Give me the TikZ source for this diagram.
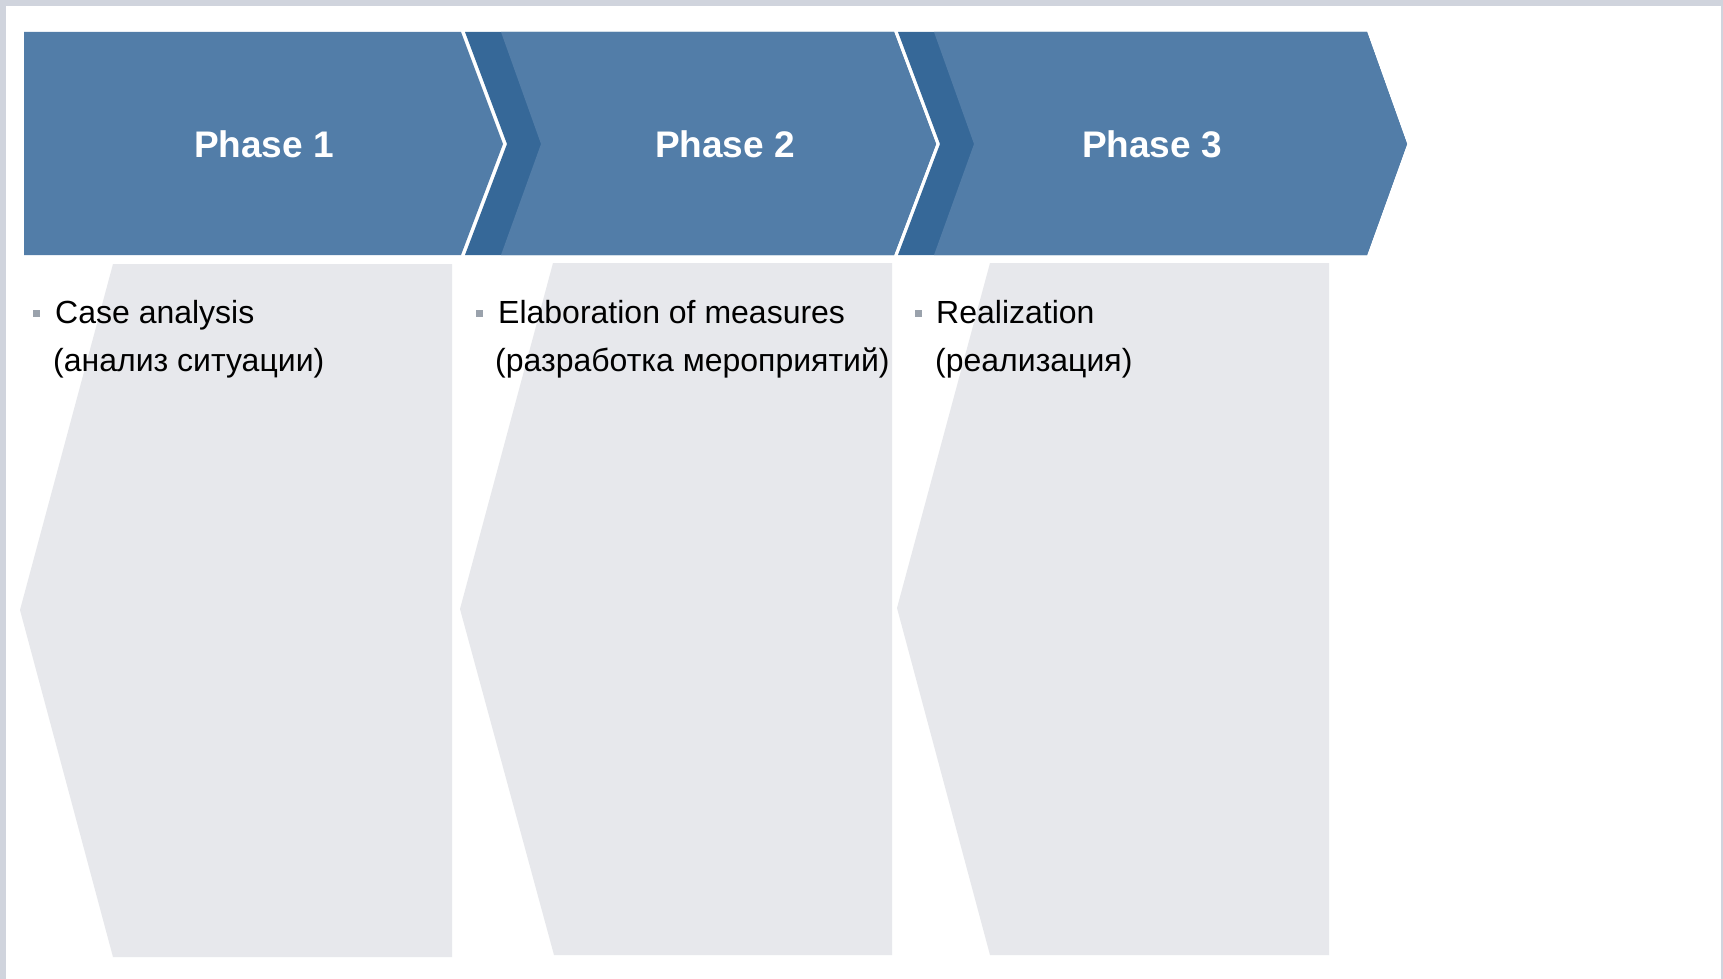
\documentclass[tikz,border=0pt]{standalone}
\usepackage{fontspec}
\setmainfont{Liberation Sans}
\definecolor{phaseblue}{HTML}{527DA8}
\definecolor{phasedark}{HTML}{366898}
\definecolor{panelgray}{HTML}{E7E8EC}
\definecolor{framegray}{HTML}{D0D4DD}
\definecolor{bulletgray}{HTML}{9AA2AC}

\begin{document}
\begin{tikzpicture}[x=1pt,y=-1pt]
  \tikzstyle{every node}+=[inner sep=0pt]
  \tikzstyle{phase}=[text=white,font=\fontsize{37}{44}\selectfont\bfseries]
  \tikzstyle{item}=[anchor=base west,font=\fontsize{32}{44}\selectfont]
  \tikzstyle{bullet}=[fill=bulletgray,minimum size=7pt]
  \useasboundingbox (0,0) rectangle (1723,979);
  \fill [white] (0,0) rectangle (1723,979);
  \fill [framegray] (0,0) rectangle (1723,6);
  \fill [framegray] (0,0) rectangle (6,979);
  \fill [framegray] (1721,0) rectangle (1723,979);
  % panels
  \fill [panelgray] (113,264) -- (452,264) -- (452,957) -- (113,957) -- (20,610) -- cycle;
  \fill [panelgray] (553,263) -- (892,263) -- (892,955) -- (554,955) -- (460,609) -- cycle;
  \fill [panelgray] (990,263) -- (1329,263) -- (1329,955) -- (990,955) -- (897,608) -- cycle;
  % phase band
  \fill [phaseblue] (24,32) -- (461,32) -- (503,144) -- (461,255) -- (24,255) -- cycle;
  \fill [phasedark] (465,32) -- (894,32) -- (936,144) -- (894,255) -- (465,255) -- (507,144) -- cycle;
  \fill [phaseblue] (501,32) -- (894,32) -- (936,144) -- (894,255) -- (501,255) -- (541,144) -- cycle;
  \fill [phasedark] (898,32) -- (1367,32) -- (1407,144) -- (1367,255) -- (898,255) -- (940,144) -- cycle;
  \fill [phaseblue] (934,32) -- (1367,32) -- (1407,144) -- (1367,255) -- (934,255) -- (974,144) -- cycle;
  \node (phase1) [phase] at (264,144) {Phase 1};
  \node (phase2) [phase] at (725,144) {Phase 2};
  \node (phase3) [phase] at (1152,144) {Phase 3};
  % items
  \node (bullet1) [bullet] at (36,313.5) {};
  \node (case) [item] at (55,323) {Case analysis};
  \node (caseru) [item] at (53,371) {(анализ ситуации)};
  \node (bullet2) [bullet] at (479,313.5) {};
  \node (measures) [item] at (498,323) {Elaboration of measures};
  \node (measuresru) [item] at (495,371) {(разработка мероприятий)};
  \node (bullet3) [bullet] at (918.5,313.5) {};
  \node (real) [item] at (936,323) {Realization};
  \node (realru) [item] at (935,371) {(реализация)};
\end{tikzpicture}
\end{document}
